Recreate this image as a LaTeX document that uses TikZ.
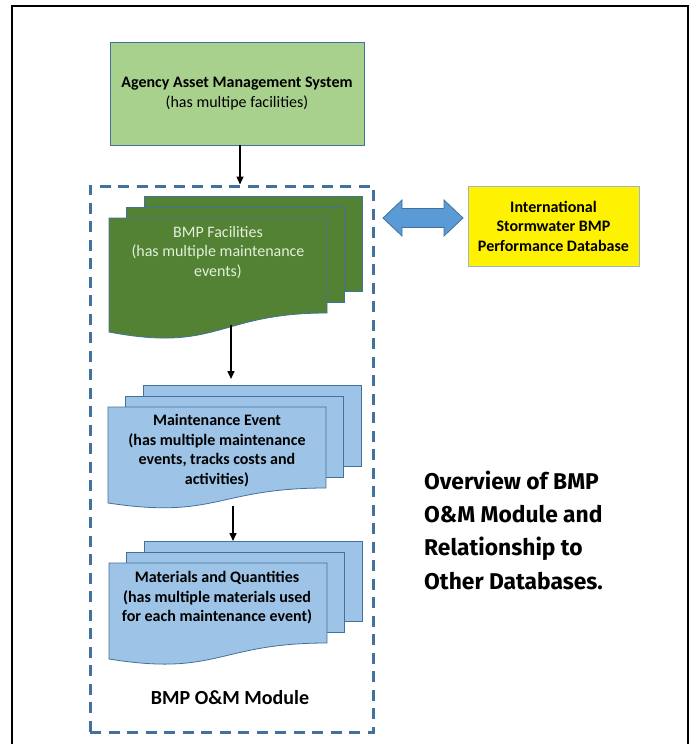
\documentclass[tikz,border=0pt]{standalone}
\usepackage{fontspec}
\setmainfont{Carlito}
\newfontfamily\titlefont{Fira Sans}
\usepackage{xcolor}
\usepackage{tikz}
\usetikzlibrary{calc,arrows.meta}

\definecolor{agencygreen}{HTML}{A9D18E}
\definecolor{facgreen}{HTML}{548235}
\definecolor{factext}{HTML}{E2F0D9}
\definecolor{sheetblue}{HTML}{9DC3E6}
\definecolor{edgeblue}{HTML}{41719C}
\definecolor{arrowblue}{HTML}{5B9BD5}
\definecolor{ybord}{HTML}{9FB3CC}

% 三层文档堆叠：名称，前页左上角，右侧高度，波浪落差，填充色
\newcommand{\docstack}[5]{%
  \coordinate (#1) at #2;
  \foreach \k in {2,1}
    \draw[sheet, fill=#5] ($(#1)+({17.5*\k},{-11*\k})$) rectangle ++(218,#3);
  \draw[sheet, fill=#5] (#1) -- ++(218,0) -- ++(0,#3)
    .. controls +(-109,0) and +(109,{1.1*#4}) .. ($(#1)+(0,{#3+#4})$) -- cycle;
}

\begin{document}
\begin{tikzpicture}[x=1pt,y=-1pt,
    box/.style={draw=edgeblue, line width=0.8pt, align=center, inner sep=0pt},
    sheet/.style={draw=edgeblue, line width=0.8pt},
    flow/.style={line width=1.5pt, -{Triangle[length=8pt,width=7pt]}},
    txt/.style={align=center, font=\fontsize{16}{19.5}\selectfont},
    txtb/.style={align=center, font=\fontsize{16}{19.5}\selectfont\bfseries}]
  \useasboundingbox (0,0) rectangle (693,744);

  % 外框
  \draw[line width=2pt] (12,744) -- (12,6) -- (688,6) -- (688,744);

  % 资产管理系统
  \node[box, txt, fill=agencygreen, minimum width=254pt, minimum height=103pt] (agency) at (237,93.5)
    {\textbf{Agency Asset Management System}\\(has multipe facilities)};

  % 模块虚线框
  \node[draw=edgeblue, line width=3pt, dash pattern=on 11pt off 7.5pt,
        minimum width=283pt, minimum height=546pt, inner sep=0pt] (module) at (231.5,459) {};
  \node[font=\fontsize{20}{24}\selectfont\bfseries] (modlbl) at (230,698) {BMP O\&M Module};

  % 文档堆叠
  \docstack{fac}{(109,218)}{95}{19}{facgreen}
  \docstack{evt}{(108,407)}{81}{15}{sheetblue}
  \docstack{mat}{(109,563)}{80}{16}{sheetblue}

  \node[txt, text=factext] (factxt) at (218,252.5)
    {BMP Facilities\\(has multiple maintenance\\events)};
  \node[txtb] (evttxt) at (217,450.5)
    {Maintenance Event\\(has multiple maintenance\\events, tracks costs and\\activities)};
  \node[txtb] (mattxt) at (217,598)
    {Materials and Quantities\\(has multiple materials used\\for each maintenance event)};

  % 箭头
  \coordinate (facbot) at (231,325);
  \coordinate (evttop) at (231,379);
  \coordinate (evtbot) at (233,506);
  \coordinate (mattop) at (233,541);
  \draw[flow] ([xshift=3pt]agency.south) -- ([xshift=3pt]agency.south |- module.north);
  \draw[flow] (facbot) -- (evttop);
  \draw[flow] (evtbot) -- (mattop);

  % 国际数据库
  \node[box, txtb, draw=ybord, fill=yellow, minimum width=171pt, minimum height=80pt] (isbmp) at (553.5,226)
    {International\\Stormwater BMP\\Performance Database};

  % 双向箭头
  \draw[line width=0.8pt, draw=edgeblue, fill=arrowblue] (383,218) -- ++(19,-18) -- ++(0,8.5)
    -- ++(42,0) -- ++(0,-8.5) -- ++(19,18) -- ++(-19,18) -- ++(0,-8.5) -- ++(-42,0) -- ++(0,8.5) -- cycle;

  % 标题
  \node[anchor=west, align=left, inner sep=0pt,
        font=\titlefont\bfseries\fontsize{22.8}{33.3}\selectfont] (title) at (424,530)
    {Overview of BMP\\O\&M Module and\\Relationship to\\Other Databases.};
\end{tikzpicture}
\end{document}
